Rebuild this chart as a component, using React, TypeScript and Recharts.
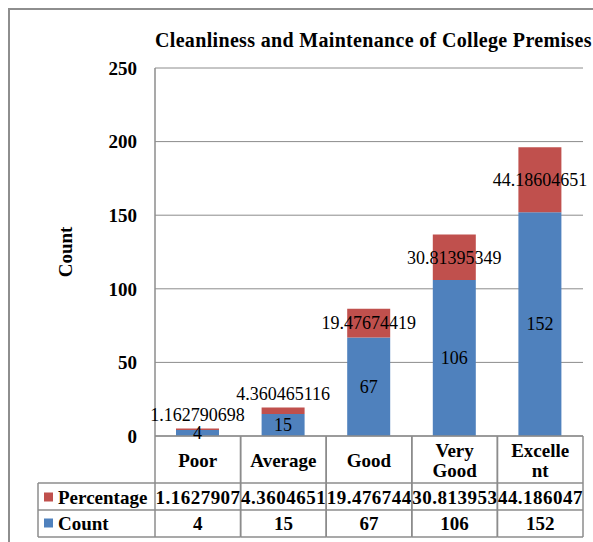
import React from 'react';
import { BarChart, Bar, XAxis, YAxis, CartesianGrid, LabelList } from 'recharts';

const categories = ['Poor', 'Average', 'Good', 'Very Good', 'Excellent'];
const countValues = [4, 15, 67, 106, 152];
const percentageValues = [1.162790698, 4.360465116, 19.47674419, 30.81395349, 44.18604651];
const yTicks = [0, 50, 100, 150, 200, 250];
const countName = 'Count';
const percentageName = 'Percentage';
const chartTitle = 'Cleanliness and Maintenance of College Premises';
const yAxisTitle = 'Count';

const data = categories.map((c, i) => ({
  category: c,
  count: countValues[i],
  percentage: percentageValues[i],
}));

const FONT = '"Liberation Serif", "DejaVu Serif", serif';
const BLUE = '#4F81BD';
const RED = '#C0504D';
const LINE = '#8c8c8c';

const CHART_W = 620;
const CHART_H = 545;
const MARGIN = { top: 58, right: 47, bottom: 18, left: 55 };
const Y_AXIS_W = 90;
const X_AXIS_H = 101;
const PLOT_W = CHART_W - MARGIN.left - Y_AXIS_W - MARGIN.right;
const BAND = PLOT_W / categories.length;
const LEFT_COL_W = 117;

function wrapLabel(s: string, max = 7): string[] {
  const words = s.split(' ');
  const lines: string[] = [];
  let cur = '';
  for (const w of words) {
    const cand = cur ? cur + ' ' + w : w;
    if (cand.length <= max) cur = cand;
    else {
      if (cur) lines.push(cur);
      cur = w;
    }
    while (cur.length > max) {
      lines.push(cur.slice(0, max));
      cur = cur.slice(max);
    }
  }
  if (cur) lines.push(cur);
  return lines;
}

const TableTick = (props: any) => {
  const { x, y, payload } = props;
  const i = categories.indexOf(payload.value);
  const x0 = x - BAND / 2;
  const x1 = x + BAND / 2;
  const lines = wrapLabel(categories[i]);
  const r1 = y + 47;
  const r2 = y + 74;
  const r3 = y + 101;
  const lineStart = y + 24 - ((lines.length - 1) * 20) / 2;
  const textStyle = { fontFamily: FONT, fontWeight: 700, fontSize: 19, fill: '#000' };
  const lx = x0 - LEFT_COL_W;
  return (
    <g>
      <line x1={x0} y1={y} x2={x0} y2={r3} stroke={LINE} strokeWidth={1.5} />
      <line x1={x1} y1={y} x2={x1} y2={r3} stroke={LINE} strokeWidth={1.5} />
      <line x1={x0} y1={r1} x2={x1} y2={r1} stroke={LINE} strokeWidth={1.5} />
      <line x1={x0} y1={r2} x2={x1} y2={r2} stroke={LINE} strokeWidth={1.5} />
      <line x1={x0} y1={r3} x2={x1} y2={r3} stroke={LINE} strokeWidth={1.5} />
      {lines.map((ln, k) => (
        <text key={k} x={x} y={lineStart + k * 20} dy="0.35em" textAnchor="middle" style={textStyle}>
          {ln}
        </text>
      ))}
      <text
        x={x0 + 0.5}
        y={y + 61}
        dy="0.35em"
        textLength={BAND - 1}
        lengthAdjust="spacing"
        style={textStyle}
      >
        {percentageValues[i].toPrecision(8)}
      </text>
      <text x={x} y={y + 87} dy="0.35em" textAnchor="middle" style={textStyle}>
        {countValues[i]}
      </text>
      {i === 0 && (
        <g>
          <line x1={lx} y1={r1} x2={x0} y2={r1} stroke={LINE} strokeWidth={1.5} />
          <line x1={lx} y1={r2} x2={x0} y2={r2} stroke={LINE} strokeWidth={1.5} />
          <line x1={lx} y1={r3} x2={x0} y2={r3} stroke={LINE} strokeWidth={1.5} />
          <line x1={lx} y1={r1} x2={lx} y2={r3} stroke={LINE} strokeWidth={1.5} />
          <rect x={lx + 6} y={y + 61 - 4.5} width={9} height={9} fill={RED} />
          <text x={lx + 20} y={y + 61} dy="0.35em" style={textStyle}>
            {percentageName}
          </text>
          <rect x={lx + 6} y={y + 87 - 4.5} width={9} height={9} fill={BLUE} />
          <text x={lx + 20} y={y + 87} dy="0.35em" style={textStyle}>
            {countName}
          </text>
        </g>
      )}
    </g>
  );
};

function boxOf(props: any) {
  const vb = props.viewBox || {};
  const x = props.x ?? vb.x;
  const y = props.y ?? vb.y;
  const width = props.width ?? vb.width;
  const height = props.height ?? vb.height;
  return { x, y, width, height };
}

const CountLabel = (props: any) => {
  const { x, y, width, height } = boxOf(props);
  const top = Math.min(y, y + height);
  const cy = top + Math.abs(height) / 2;
  return (
    <text
      x={x + width / 2}
      y={cy}
      dy="0.35em"
      textAnchor="middle"
      style={{ fontFamily: FONT, fontSize: 18, fill: '#000' }}
    >
      {String(props.value)}
    </text>
  );
};

const PctLabel = (props: any) => {
  const { x, y, width, height } = boxOf(props);
  const h = Math.abs(height);
  const top = Math.min(y, y + height);
  const cy = h < 20 ? top - 14 : top + h / 2;
  return (
    <text
      x={x + width / 2}
      y={cy}
      dy="0.35em"
      textAnchor="middle"
      style={{ fontFamily: FONT, fontSize: 18, fill: '#000' }}
    >
      {String(props.value)}
    </text>
  );
};

const YTitle = (props: any) => {
  const vb = props.viewBox || {};
  const cx = vb.x;
  const cy = vb.y + vb.height / 2;
  return (
    <text
      x={cx}
      y={cy}
      dy="0.35em"
      textAnchor="middle"
      transform={`rotate(-90 ${cx} ${cy})`}
      style={{ fontFamily: FONT, fontWeight: 700, fontSize: 19, fill: '#000' }}
    >
      {yAxisTitle}
    </text>
  );
};

export default function App() {
  return (
    <div
      style={{
        position: 'fixed',
        left: 8,
        top: 8,
        width: 585,
        height: 534,
        overflow: 'hidden',
        boxSizing: 'border-box',
        borderLeft: '2px solid #8e8e8e',
        borderTop: '2px solid #8e8e8e',
        background: '#fff',
      }}
    >
      <div
        style={{
          position: 'absolute',
          left: 145,
          top: 20,
          whiteSpace: 'nowrap',
          fontFamily: FONT,
          fontWeight: 700,
          fontSize: 20,
          letterSpacing: '0.33px',
          lineHeight: '20px',
          color: '#000',
        }}
      >
        {chartTitle}
      </div>
      <BarChart width={CHART_W} height={CHART_H} data={data} margin={MARGIN}>
        <CartesianGrid horizontal vertical={false} stroke={LINE} strokeWidth={1} />
        <XAxis
          dataKey="category"
          height={X_AXIS_H}
          interval={0}
          tickLine={false}
          tickSize={0}
          tickMargin={0}
          axisLine={{ stroke: LINE, strokeWidth: 1.5 }}
          tick={<TableTick />}
        />
        <YAxis
          width={Y_AXIS_W}
          domain={[0, 250]}
          ticks={yTicks}
          tickLine={false}
          tickSize={6}
          tickMargin={12}
          axisLine={{ stroke: LINE, strokeWidth: 1.5 }}
          tick={{ fontFamily: FONT, fontWeight: 700, fontSize: 19, fill: '#000' }}
          label={{ content: <YTitle /> }}
        />
        <Bar dataKey="count" name={countName} stackId="a" fill={BLUE} barSize={43} isAnimationActive={false}>
          <LabelList dataKey="count" content={<CountLabel />} />
        </Bar>
        <Bar dataKey="percentage" name={percentageName} stackId="a" fill={RED} barSize={43} isAnimationActive={false}>
          <LabelList dataKey="percentage" content={<PctLabel />} />
        </Bar>
      </BarChart>
    </div>
  );
}
